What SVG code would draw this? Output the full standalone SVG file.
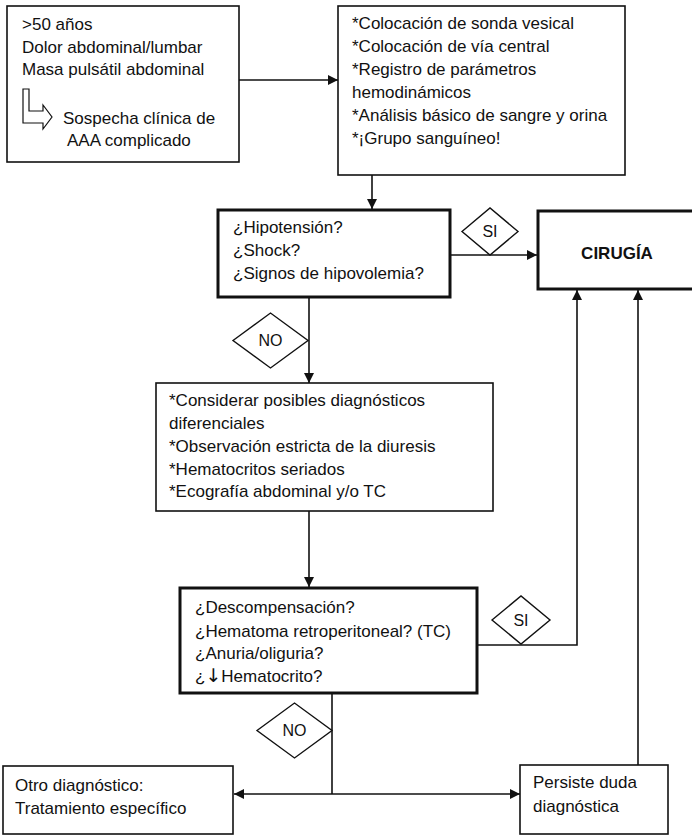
<svg xmlns="http://www.w3.org/2000/svg" width="692" height="836" viewBox="0 0 692 836">
<style>
text{font-family:"Liberation Sans",Arial,sans-serif;font-size:17px;fill:#111}
.box{fill:#fff;stroke:#111;stroke-width:1.6}
.tbox{fill:#fff;stroke:#111;stroke-width:3}
.dia{fill:#fff;stroke:#111;stroke-width:1.4}
.lbl{font-size:16px;text-anchor:middle}
.conn{fill:none;stroke:#111;stroke-width:1.6}
</style>
<defs>
<marker id="ah" viewBox="0 0 10 10" refX="10" refY="5" markerWidth="10" markerHeight="10" markerUnits="userSpaceOnUse" orient="auto">
<path d="M0,0 L10,5 L0,10 Z" fill="#111"/>
</marker>
</defs>
<rect width="692" height="836" fill="#fff"/>

<g id="connectors">
<line class="conn" x1="239" y1="80" x2="338" y2="80" marker-end="url(#ah)"/>
<line class="conn" x1="372" y1="175" x2="372" y2="209" marker-end="url(#ah)"/>
<line class="conn" x1="450" y1="255" x2="537" y2="255" marker-end="url(#ah)"/>
<line class="conn" x1="309" y1="297" x2="309" y2="383" marker-end="url(#ah)"/>
<line class="conn" x1="309" y1="511" x2="309" y2="587" marker-end="url(#ah)"/>
<polyline class="conn" points="477,645 577,645 577,290" marker-end="url(#ah)"/>
<line class="conn" x1="332" y1="693" x2="332" y2="794"/>
<line class="conn" x1="332" y1="794" x2="234" y2="794" marker-end="url(#ah)"/>
<line class="conn" x1="332" y1="794" x2="520" y2="794" marker-end="url(#ah)"/>
<line class="conn" x1="638" y1="765" x2="638" y2="290" marker-end="url(#ah)"/>
</g>

<g id="n_inicio">
<rect class="box" x="7" y="6" width="232" height="156"/>
<text x="22" y="30">&gt;50 años</text>
<text x="22" y="53">Dolor abdominal/lumbar</text>
<text x="22" y="75">Masa pulsátil abdominal</text>
<polygon points="23,89 29,89 29,111 43,111 43,105 52,117 43,129 43,123 23,123" fill="#fff" stroke="#111" stroke-width="1.2"/>
<text x="63" y="124">Sospecha clínica de</text>
<text x="67" y="146">AAA complicado</text>
</g>

<g id="n_medidas">
<rect class="box" x="338" y="6" width="287" height="169"/>
<text x="352" y="29">*Colocación de sonda vesical</text>
<text x="352" y="52">*Colocación de vía central</text>
<text x="352" y="75">*Registro de parámetros</text>
<text x="352" y="98">hemodinámicos</text>
<text x="352" y="121">*Análisis básico de sangre y orina</text>
<text x="352" y="144">*¡Grupo sanguíneo!</text>
</g>

<g id="n_hipotension">
<rect class="tbox" x="218" y="210" width="232" height="87"/>
<text x="233" y="233">¿Hipotensión?</text>
<text x="233" y="256">¿Shock?</text>
<text x="233" y="279">¿Signos de hipovolemia?</text>
</g>

<g id="n_si1">
<polygon class="dia" points="462,231.5 490,208 518,231.5 490,255"/>
<text class="lbl" x="490" y="237">SI</text>
</g>

<g id="n_cirugia">
<rect class="tbox" x="538" y="211" width="170" height="78"/>
<text x="617" y="259" text-anchor="middle" font-weight="bold">CIRUGÍA</text>
</g>

<g id="n_no1">
<polygon class="dia" points="233,340.5 270.5,313 308,340.5 270.5,368"/>
<text class="lbl" x="270.5" y="346">NO</text>
</g>

<g id="n_considerar">
<rect class="box" x="156" y="383" width="337" height="128"/>
<text x="169" y="406">*Considerar posibles diagnósticos</text>
<text x="169" y="429">diferenciales</text>
<text x="169" y="452">*Observación estricta de la diuresis</text>
<text x="169" y="475">*Hematocritos seriados</text>
<text x="169" y="497">*Ecografía abdominal y/o TC</text>
</g>

<g id="n_descompensacion">
<rect class="tbox" x="180" y="588" width="297" height="105"/>
<text x="195" y="613">¿Descompensación?</text>
<text x="195" y="637">¿Hematoma retroperitoneal? (TC)</text>
<text x="195" y="659">¿Anuria/oliguria?</text>
<text x="195" y="682">¿<tspan font-family="'DejaVu Sans',sans-serif" font-size="19px">↓</tspan>Hematocrito?</text>
</g>

<g id="n_si2">
<polygon class="dia" points="492,620 521,596 550,620 521,644"/>
<text class="lbl" x="521" y="626">SI</text>
</g>

<g id="n_no2">
<polygon class="dia" points="257,730.5 294.5,703 332,730.5 294.5,758"/>
<text class="lbl" x="294.5" y="736">NO</text>
</g>

<g id="n_otro">
<rect class="box" x="3" y="766" width="230" height="68"/>
<text x="15" y="791">Otro diagnóstico:</text>
<text x="15" y="814">Tratamiento específico</text>
</g>

<g id="n_persiste">
<rect class="box" x="520" y="765" width="148" height="69"/>
<text x="533" y="788">Persiste duda</text>
<text x="533" y="812">diagnóstica</text>
</g>
</svg>
